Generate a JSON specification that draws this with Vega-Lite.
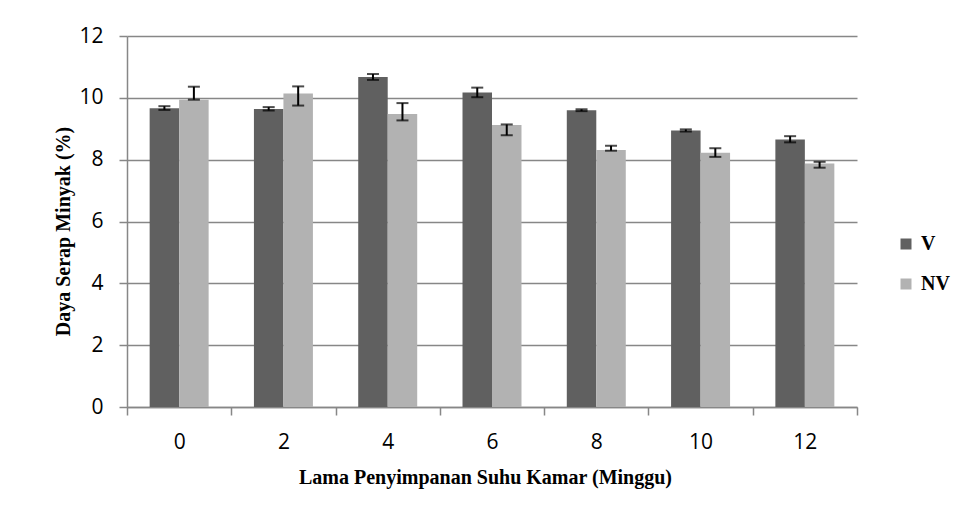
{
  "$schema": "https://vega.github.io/schema/vega-lite/v6.json",
  "autosize": "none",
  "width": 730,
  "height": 371,
  "padding": {"left": 127, "top": 36, "right": 102, "bottom": 111},
  "background": "white",
  "config": {
    "view": {"stroke": null},
    "axis": {"labelFont": "Open Sans", "labelFontSize": 21, "labelColor": "#000000", "titleFont": "Liberation Serif", "titleFontSize": 20, "titleFontWeight": "bold", "titleColor": "#000000", "domainColor": "#878787", "domainWidth": 1.5, "tickColor": "#878787", "tickWidth": 1.5, "gridColor": "#878787", "gridWidth": 1.5}
  },
  "data": {
    "values": [
      {"Minggu": 0, "Perlakuan": "V", "nilai": 9.66, "bawah": 9.61, "atas": 9.73},
      {"Minggu": 0, "Perlakuan": "NV", "nilai": 9.94, "bawah": 9.94, "atas": 10.36},
      {"Minggu": 2, "Perlakuan": "V", "nilai": 9.64, "bawah": 9.59, "atas": 9.70},
      {"Minggu": 2, "Perlakuan": "NV", "nilai": 10.14, "bawah": 9.75, "atas": 10.37},
      {"Minggu": 4, "Perlakuan": "V", "nilai": 10.67, "bawah": 10.58, "atas": 10.77},
      {"Minggu": 4, "Perlakuan": "NV", "nilai": 9.48, "bawah": 9.27, "atas": 9.83},
      {"Minggu": 6, "Perlakuan": "V", "nilai": 10.17, "bawah": 10.02, "atas": 10.33},
      {"Minggu": 6, "Perlakuan": "NV", "nilai": 9.12, "bawah": 8.79, "atas": 9.14},
      {"Minggu": 8, "Perlakuan": "V", "nilai": 9.60, "bawah": 9.57, "atas": 9.63},
      {"Minggu": 8, "Perlakuan": "NV", "nilai": 8.31, "bawah": 8.29, "atas": 8.45},
      {"Minggu": 10, "Perlakuan": "V", "nilai": 8.94, "bawah": 8.91, "atas": 8.98},
      {"Minggu": 10, "Perlakuan": "NV", "nilai": 8.22, "bawah": 8.09, "atas": 8.37},
      {"Minggu": 12, "Perlakuan": "V", "nilai": 8.65, "bawah": 8.56, "atas": 8.76},
      {"Minggu": 12, "Perlakuan": "NV", "nilai": 7.88, "bawah": 7.74, "atas": 7.93}
    ]
  },
  "encoding": {
    "x": {
      "field": "Minggu", "type": "ordinal",
      "scale": {"paddingInner": 0, "paddingOuter": 0},
      "axis": {"title": "Lama Penyimpanan Suhu Kamar (Minggu)", "labelAngle": 0, "tickBand": "extent", "tickSize": 8, "labelPadding": 16, "titlePadding": 15, "titleX": 358, "grid": false}
    },
    "xOffset": {"field": "Perlakuan", "type": "nominal", "sort": ["V", "NV"], "scale": {"paddingInner": 0, "paddingOuter": 0.768}}
  },
  "layer": [
    {
      "mark": {"type": "bar"},
      "encoding": {
        "y": {
          "field": "nilai", "type": "quantitative",
          "scale": {"domain": [0, 12], "nice": false},
          "axis": {"title": "Daya Serap Minyak (%)", "values": [0, 2, 4, 6, 8, 10, 12], "tickSize": 8, "labelPadding": 16, "titleX": -54, "titleY": 195}
        },
        "color": {
          "field": "Perlakuan", "type": "nominal",
          "scale": {"domain": ["V", "NV"], "range": ["#606060", "#b2b2b2"]},
          "legend": {"title": null, "orient": "none", "legendX": 769, "legendY": 198, "symbolType": "square", "symbolSize": 121, "symbolStrokeWidth": 0, "labelFont": "Liberation Serif", "labelFontWeight": "bold", "labelFontSize": 20, "labelColor": "#000000", "labelOffset": 5, "rowPadding": 20, "padding": 0}
        }
      }
    },
    {
      "mark": {"type": "rule", "color": "#000000", "strokeWidth": 2},
      "encoding": {
        "y": {"field": "bawah", "type": "quantitative"},
        "y2": {"field": "atas"}
      }
    },
    {
      "mark": {"type": "tick", "color": "#000000", "thickness": 2, "size": 12},
      "encoding": {"y": {"field": "bawah", "type": "quantitative"}}
    },
    {
      "mark": {"type": "tick", "color": "#000000", "thickness": 2, "size": 12},
      "encoding": {"y": {"field": "atas", "type": "quantitative"}}
    }
  ]
}
